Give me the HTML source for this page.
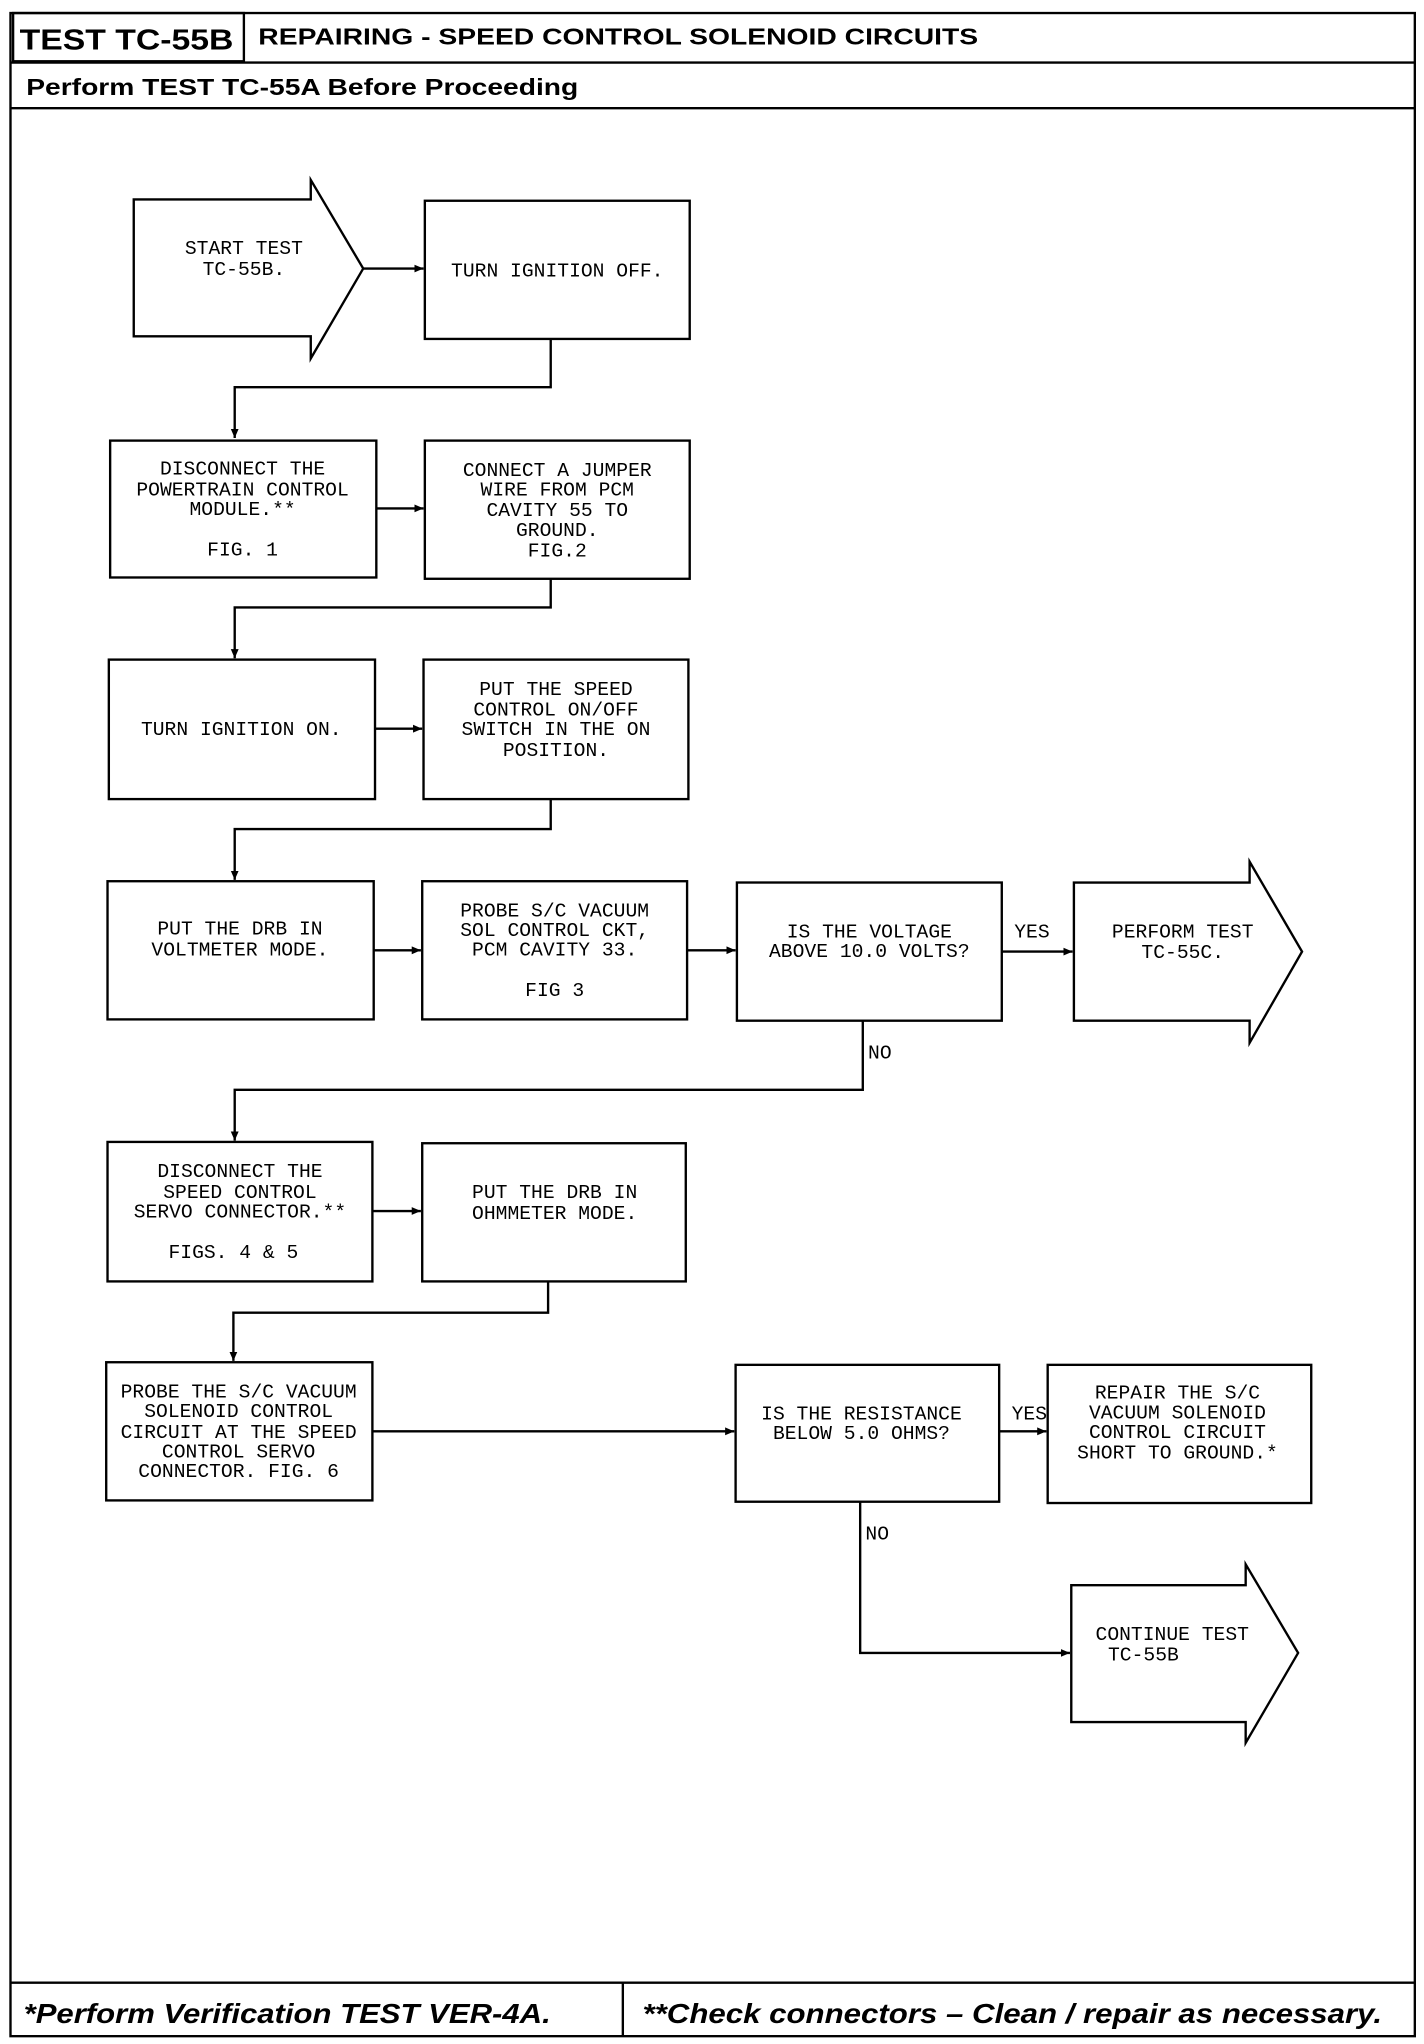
<!DOCTYPE html>
<html><head><meta charset="utf-8"><style>
html,body{margin:0;padding:0;background:#fff}
svg{display:block}
.m{font-family:"Liberation Mono",monospace;font-size:15px;fill:#000;text-anchor:middle}
.h{font-family:"Liberation Sans",sans-serif;font-weight:bold;fill:#000}
</style></head><body>
<svg width="1424" height="2044" viewBox="0 0 1086 1568" preserveAspectRatio="none" xmlns="http://www.w3.org/2000/svg">
<defs><marker id="a" markerWidth="8" markerHeight="8" refX="7" refY="4" orient="auto" markerUnits="userSpaceOnUse"><path d="M0,1 L7,4 L0,7 Z" fill="#000"/></marker></defs>
<g fill="none" stroke="#000" stroke-width="1.8">
<rect x="8" y="10" width="1071" height="1552"/>
<rect x="10" y="10" width="176" height="37"/>
<line x1="8" y1="48" x2="1079" y2="48"/>
<line x1="8" y1="83" x2="1079" y2="83"/>
<line x1="8" y1="1521" x2="1079" y2="1521"/>
<line x1="475" y1="1521" x2="475" y2="1562"/>
<!-- start arrow -->
<path d="M102,153 H237 V138 L277,206 L237,275 V258 H102 Z"/>
<rect x="324" y="154" width="202" height="106"/>
<rect x="84" y="338" width="203" height="105"/>
<rect x="324" y="338" width="202" height="106"/>
<rect x="83" y="506" width="203" height="107"/>
<rect x="323" y="506" width="202" height="107"/>
<rect x="82" y="676" width="203" height="106"/>
<rect x="322" y="676" width="202" height="106"/>
<rect x="562" y="677" width="202" height="106"/>
<path d="M819,677 H953 V661 L993,730 L953,800 V783 H819 Z"/>
<rect x="82" y="876" width="202" height="107"/>
<rect x="322" y="877" width="201" height="106"/>
<rect x="81" y="1045" width="203" height="106"/>
<rect x="561" y="1047" width="201" height="105"/>
<rect x="799" y="1047" width="201" height="106"/>
<path d="M817,1216 H950 V1200 L990,1268 L950,1337 V1321 H817 Z"/>
</g>
<g fill="none" stroke="#000" stroke-width="1.8" marker-end="url(#a)">
<line x1="277" y1="206" x2="323" y2="206"/>
<polyline points="420,260 420,297 179,297 179,336"/>
<line x1="287" y1="390" x2="323" y2="390"/>
<polyline points="420,444 420,466 179,466 179,505"/>
<line x1="286" y1="559" x2="322" y2="559"/>
<polyline points="420,613 420,636 179,636 179,675"/>
<line x1="285" y1="729" x2="321" y2="729"/>
<line x1="524" y1="729" x2="561" y2="729"/>
<line x1="764" y1="730" x2="818" y2="730"/>
<polyline points="658,783 658,836 179,836 179,875"/>
<line x1="284" y1="929" x2="321" y2="929"/>
<polyline points="418,983 418,1007 178,1007 178,1044"/>
<line x1="284" y1="1098" x2="560" y2="1098"/>
<line x1="762" y1="1098" x2="798" y2="1098"/>
<polyline points="656,1152 656,1268 816,1268"/>
</g>
<text class="h" x="15" y="38" font-size="22" textLength="163" lengthAdjust="spacingAndGlyphs">TEST TC-55B</text>
<text class="h" x="197" y="34" font-size="18" textLength="549" lengthAdjust="spacingAndGlyphs">REPAIRING - SPEED CONTROL SOLENOID CIRCUITS</text>
<text class="h" x="20" y="73" font-size="18" textLength="421" lengthAdjust="spacingAndGlyphs">Perform TEST TC-55A Before Proceeding</text>
<text class="h" x="18" y="1552" font-size="21" font-style="italic" textLength="402" lengthAdjust="spacingAndGlyphs">*Perform Verification TEST VER-4A.</text>
<text class="h" x="490" y="1552" font-size="21" font-style="italic" textLength="564" lengthAdjust="spacingAndGlyphs">**Check connectors – Clean / repair as necessary.</text>
<g class="m">
<text x="186" y="195">START TEST</text><text x="186" y="211">TC-55B.</text>
<text x="425" y="212">TURN IGNITION OFF.</text>
<text x="185" y="364">DISCONNECT THE</text><text x="185" y="380">POWERTRAIN CONTROL</text><text x="185" y="395">MODULE.**</text><text x="185" y="426">FIG. 1</text>
<text x="425" y="365">CONNECT A JUMPER</text><text x="425" y="380">WIRE FROM PCM</text><text x="425" y="396">CAVITY 55 TO</text><text x="425" y="411">GROUND.</text><text x="425" y="427">FIG.2</text>
<text x="184" y="564">TURN IGNITION ON.</text>
<text x="424" y="533">PUT THE SPEED</text><text x="424" y="549">CONTROL ON/OFF</text><text x="424" y="564">SWITCH IN THE ON</text><text x="424" y="580">POSITION.</text>
<text x="183" y="717">PUT THE DRB IN</text><text x="183" y="733">VOLTMETER MODE.</text>
<text x="423" y="703">PROBE S/C VACUUM</text><text x="423" y="718">SOL CONTROL CKT,</text><text x="423" y="733">PCM CAVITY 33.</text><text x="423" y="764">FIG 3</text>
<text x="663" y="719">IS THE VOLTAGE</text><text x="663" y="734">ABOVE 10.0 VOLTS?</text>
<text x="787" y="719">YES</text>
<text x="902" y="719">PERFORM TEST</text><text x="902" y="735">TC-55C.</text>
<text x="671" y="812">NO</text>
<text x="183" y="903">DISCONNECT THE</text><text x="183" y="919">SPEED CONTROL</text><text x="183" y="934">SERVO CONNECTOR.**</text><text x="178" y="965">FIGS. 4 &amp; 5</text>
<text x="423" y="919">PUT THE DRB IN</text><text x="423" y="935">OHMMETER MODE.</text>
<text x="182" y="1072">PROBE THE S/C VACUUM</text><text x="182" y="1087">SOLENOID CONTROL</text><text x="182" y="1103">CIRCUIT AT THE SPEED</text><text x="182" y="1118">CONTROL SERVO</text><text x="182" y="1133">CONNECTOR. FIG. 6</text>
<text x="657" y="1089">IS THE RESISTANCE</text><text x="657" y="1104">BELOW 5.0 OHMS?</text>
<text x="785" y="1089">YES</text>
<text x="898" y="1073">REPAIR THE S/C</text><text x="898" y="1088">VACUUM SOLENOID</text><text x="898" y="1103">CONTROL CIRCUIT</text><text x="898" y="1119">SHORT TO GROUND.*</text>
<text x="669" y="1181">NO</text>
<text x="894" y="1258">CONTINUE TEST</text><text x="872" y="1274">TC-55B</text>
</g>
</svg>
</body></html>
